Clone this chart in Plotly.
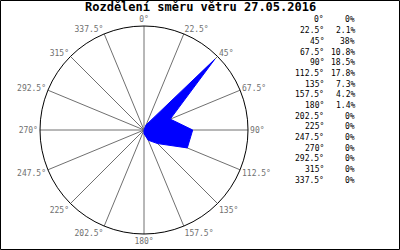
import plotly.graph_objects as go

title = "Rozdělení směru větru 27.05.2016"
directions = [0, 22.5, 45, 67.5, 90, 112.5, 135, 157.5, 180, 202.5, 225, 247.5, 270, 292.5, 315, 337.5]
dir_labels = ["0°", "22.5°", "45°", "67.5°", "90°", "112.5°", "135°", "157.5°", "180°",
              "202.5°", "225°", "247.5°", "270°", "292.5°", "315°", "337.5°"]
percent = [0, 2.1, 38, 10.8, 18.5, 17.8, 7.3, 4.2, 1.4, 0, 0, 0, 0, 0, 0, 0]
percent_labels = ["0%", "2.1%", "38%", "10.8%", "18.5%", "17.8%", "7.3%", "4.2%", "1.4%",
                  "0%", "0%", "0%", "0%", "0%", "0%", "0%"]

FONT = "DejaVu Sans Mono"
W, H = 400, 250

fig = go.Figure()
fig.add_trace(go.Scatterpolar(
    r=percent + [percent[0]],
    theta=directions + [directions[0]],
    mode="lines",
    fill="toself",
    fillcolor="#0000ff",
    line=dict(color="#0000ff", width=1),
    hoverinfo="skip",
))

cx, cy, R = 144, 130, 104
fig.update_layout(
    width=W, height=H,
    margin=dict(l=0, r=0, t=0, b=0),
    paper_bgcolor="white",
    showlegend=False,
    polar=dict(
        domain=dict(x=[(cx - R) / W, (cx + R) / W], y=[(H - cy - R) / H, (H - cy + R) / H]),
        bgcolor="white",
        radialaxis=dict(visible=False, range=[0, 39.5]),
        angularaxis=dict(
            rotation=90, direction="clockwise",
            tickmode="array", tickvals=directions, ticktext=dir_labels,
            showline=True, linecolor="black", linewidth=1,
            showgrid=True, gridcolor="#707070", gridwidth=1,
            ticks="", ticklen=0,
            tickfont=dict(family=FONT, size=8, color="#707070"),
        ),
    ),
)

fig.add_annotation(
    text="<b>" + title + "</b>", x=200 / W, y=1 - 7 / H, xref="paper", yref="paper",
    xanchor="center", yanchor="middle", showarrow=False,
    font=dict(family=FONT, size=12, color="black"),
)

y0, dy = 20, 10.67
for i, (d, p) in enumerate(zip(dir_labels, percent_labels)):
    y = 1 - (y0 + i * dy) / H
    fig.add_annotation(text=d, x=326 / W, y=y, xref="paper", yref="paper",
                       xanchor="right", yanchor="middle", showarrow=False,
                       font=dict(family=FONT, size=8, color="black"))
    fig.add_annotation(text=p, x=357 / W, y=y, xref="paper", yref="paper",
                       xanchor="right", yanchor="middle", showarrow=False,
                       font=dict(family=FONT, size=8, color="black"))

fig.add_shape(type="rect", xref="paper", yref="paper", x0=0.5 / W, y0=0.5 / H,
              x1=1 - 0.5 / W, y1=1 - 0.5 / H, line=dict(color="black", width=1))

fig.write_html("out.html")
